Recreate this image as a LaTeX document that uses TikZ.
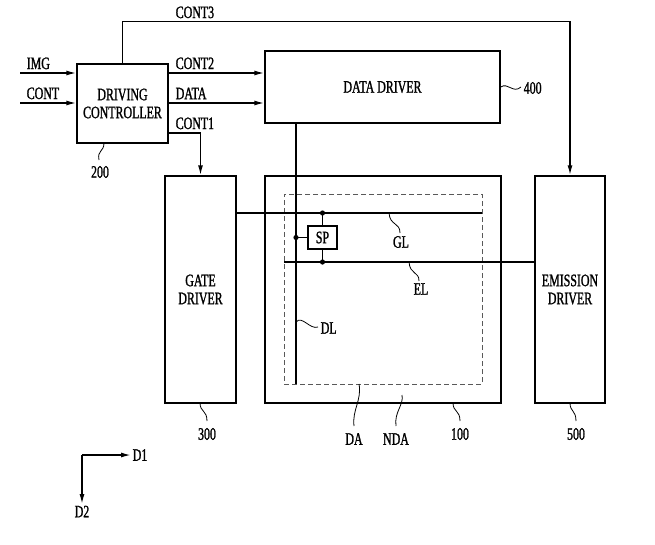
\documentclass[tikz,border=0pt]{standalone}
\usepackage{fontspec}
\setmainfont{Liberation Serif}[FakeStretch=0.68, FakeBold=1.2]
\usetikzlibrary{arrows.meta}

\tikzset{
    block/.style={draw, rectangle, align=center, inner sep=0pt},
    lead/.style={line width=0.8pt},
    sig/.style={anchor=south west, inner sep=1pt},
}

\begin{document}
\begin{tikzpicture}[x=1pt, y=-1pt, >={Latex[length=10pt,width=5pt]}, line width=1.5pt,
    font=\fontsize{17.5}{18}\selectfont]
    \useasboundingbox (0,0) rectangle (655,544);

    % Blocks
    \node[block, minimum width=91pt, minimum height=79pt] (ctrl) at (122.5,103.5) {DRIVING\\CONTROLLER};
    \node[block, minimum width=235pt, minimum height=72pt] (dd) at (382.5,87) {DATA DRIVER};
    \node[block, minimum width=71pt, minimum height=227pt] (gate) at (200.5,289.5) {GATE\\DRIVER};
    \node[block, minimum width=236pt, minimum height=227pt] (panel) at (383,289.5) {};
    \node[block, minimum width=70pt, minimum height=227pt] (emis) at (570,289.5) {EMISSION\\DRIVER};
    \node[draw, dash pattern=on 5pt off 3pt, line width=1pt, gray!70!black, minimum width=198pt, minimum height=190pt, inner sep=0pt] (da) at (383,289) {};
    \node[block, minimum width=29pt, minimum height=23pt] (sp) at (322.5,237.5) {SP};

    % Inputs
    \coordinate (img) at (20,73);
    \coordinate (cont) at (20,103);
    \draw[->] (img) -- (ctrl.west |- img);
    \draw[->] (cont) -- (ctrl.west |- cont);
    \node[sig] at (25,71) {IMG};
    \node[sig] at (25,101) {CONT};

    % Control signals
    \draw[->] (ctrl.east |- img) -- (dd.west |- img);
    \draw[->] (ctrl.east |- cont) -- (dd.west |- cont);
    \draw[->] (ctrl.east |- 0,133) -| (gate.north);
    \draw[->] (ctrl.north) -- ++(0,-42) -| (emis.north);
    \node[sig] at (174,20) {CONT3};
    \node[sig] at (174,71) {CONT2};
    \node[sig] at (174,101) {DATA};
    \node[sig] at (174,131) {CONT1};

    % Lines in panel
    \coordinate (dltop) at (296,123);
    \coordinate (dlbot) at (296,384);
    \coordinate (glend) at (482,213);
    \coordinate (elbeg) at (284,262);
    \draw (dltop) -- (dlbot);
    \draw (gate.east |- glend) -- (glend);
    \draw (elbeg) -- (emis.west |- elbeg);
    \draw (sp.north) -- (sp.north |- glend);
    \draw (sp.south) -- (sp.south |- elbeg);
    \draw (sp.west) -- (dltop |- sp.west);
    \fill (sp.north |- glend) circle (2.6);
    \fill (sp.south |- elbeg) circle (2.6);
    \fill (dltop |- sp.west) circle (2.6);

    % Reference labels
    \draw[lead] (104,143) .. controls (104,152) and (97,150) .. (99,160);
    \node (l200) at (100,172) {200};
    \draw[lead] (dd.east) .. controls (508,82) and (513,94) .. (521,87);
    \node[anchor=west, inner sep=1pt] (l400) at (522,88) {400};
    \draw[lead] (389,213) .. controls (390,226) and (400,222) .. (400,233);
    \node (lgl) at (401,242) {GL};
    \draw[lead] (409,262) .. controls (410,275) and (419,271) .. (419,281);
    \node (lel) at (421,289) {EL};
    \draw[lead] (296,322) .. controls (302,315) and (310,330) .. (318,327);
    \node[anchor=west, inner sep=1pt] (ldl) at (319,328) {DL};
    \draw[lead] (200,403) .. controls (200,412) and (207,410) .. (207,421);
    \node (l300) at (207,434) {300};
    \draw[lead] (359,384) .. controls (362,400) and (352,410) .. (354,426);
    \node (lda) at (354,439) {DA};
    \draw[lead] (402,395) .. controls (404,405) and (394,412) .. (396,426);
    \node (lnda) at (396,439) {NDA};
    \draw[lead] (453,403) .. controls (453,412) and (460,410) .. (460,421);
    \node (l100) at (460,434) {100};
    \draw[lead] (570,403) .. controls (570,412) and (576,410) .. (576,421);
    \node (l500) at (576,434) {500};

    % Directions
    \coordinate (org) at (82,455);
    \node[anchor=west, inner sep=1pt] (d1) at (131,455) {D1};
    \node[anchor=north, inner sep=1pt] (d2) at (82,504) {D2};
    \draw[->] (org) -- (d1.west);
    \draw[->] (org) -- (d2.north);
\end{tikzpicture}
\end{document}
